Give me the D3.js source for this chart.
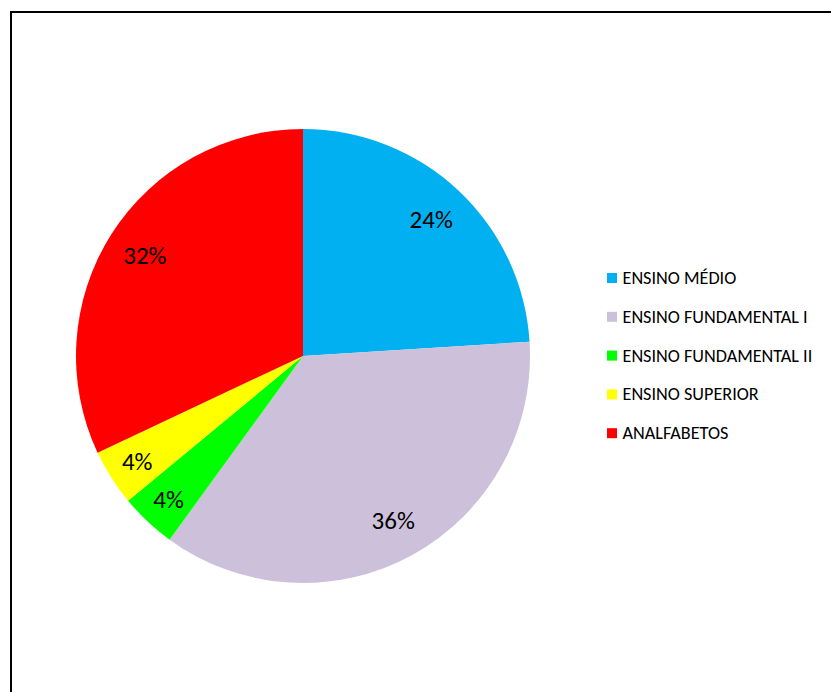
<!DOCTYPE html>
<html>
<head>
<meta charset="utf-8">
<script src="https://cdn.jsdelivr.net/npm/d3@7/dist/d3.min.js"></script>
<style>
  html, body { margin: 0; padding: 0; background: #fff; }
  svg { display: block; }
</style>
</head>
<body>
<svg id="chart" width="831" height="692"></svg>
<script>
// Education level distribution
const categories = ["ENSINO MÉDIO", "ENSINO FUNDAMENTAL I", "ENSINO FUNDAMENTAL II", "ENSINO SUPERIOR", "ANALFABETOS"];
const values = [24, 36, 4, 4, 32];
const colors = ["#00B0F0", "#CCC0DA", "#00FF00", "#FFFF00", "#FF0000"];

const svg = d3.select("#chart");
const W = 831, H = 692;
const font = "Carlito, Calibri, 'Open Sans', sans-serif";

// Chart frame (open to the right and bottom of the page)
svg.append("rect")
  .attr("x", 11).attr("y", 12)
  .attr("width", W + 20).attr("height", H + 20)
  .attr("fill", "#fff")
  .attr("stroke", "#000")
  .attr("stroke-width", 2);

const cx = 303, cy = 356, R = 227;
const data = categories.map((c, i) => ({ name: c, value: values[i], color: colors[i] }));

const pie = d3.pie().value(d => d.value).sort(null);
const arcs = pie(data);
const arc = d3.arc().innerRadius(0).outerRadius(R);

const g = svg.append("g").attr("transform", `translate(${cx},${cy})`);
g.selectAll("path.slice")
  .data(arcs)
  .join("path")
  .attr("class", "slice")
  .attr("d", arc)
  .attr("fill", d => d.data.color);

// Percent labels inside the slices; thin slices sit a bit closer to the rim
const total = d3.sum(values);
g.selectAll("text.pct")
  .data(arcs)
  .join("text")
  .attr("class", "pct")
  .attr("transform", d => {
    const r = R * (d.data.value < 10 ? 0.865 : 0.825);
    const a = (d.startAngle + d.endAngle) / 2;
    return `translate(${r * Math.sin(a)},${-r * Math.cos(a)})`;
  })
  .attr("text-anchor", "middle")
  .attr("dominant-baseline", "central")
  .attr("font-family", font)
  .attr("font-size", 25)
  .attr("fill", "#000")
  .text(d => Math.round(d.data.value / total * 100) + "%");

// Legend
const lx = 607, ly0 = 278, step = 38.8;
const leg = svg.append("g");
const items = leg.selectAll("g.item")
  .data(data)
  .join("g")
  .attr("class", "item")
  .attr("transform", (d, i) => `translate(${lx},${ly0 + i * step})`);
items.append("rect")
  .attr("x", 0).attr("y", -5)
  .attr("width", 10).attr("height", 10)
  .attr("fill", d => d.color);
items.append("text")
  .attr("x", 15.5).attr("y", 0)
  .attr("dominant-baseline", "central")
  .attr("font-family", font)
  .attr("font-size", 18.2)
  .attr("fill", "#000")
  .text(d => d.name);
</script>
</body>
</html>
